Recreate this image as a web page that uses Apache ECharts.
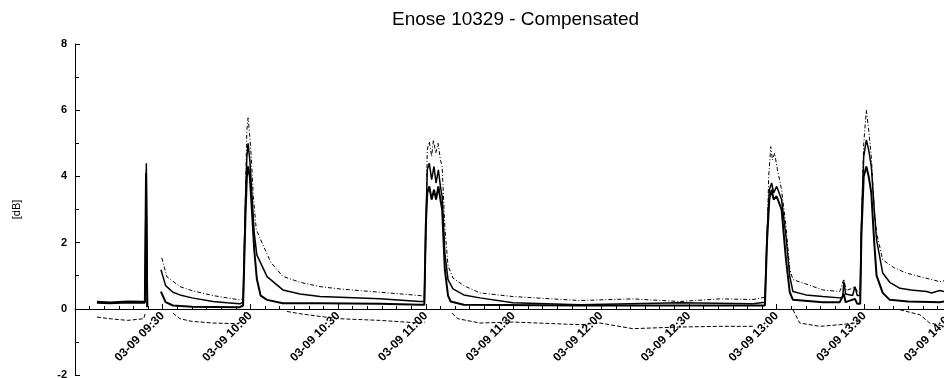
<!DOCTYPE html>
<html>
<head>
<meta charset="utf-8">
<script src="https://cdn.jsdelivr.net/npm/echarts@6/dist/echarts.min.js"></script>
<style>
  html, body { margin: 0; padding: 0; background: #fff; }
  #chart { width: 944px; height: 378px; }
</style>
</head>
<body>
<div id="chart"></div>
<script>
// x = minutes after 03-09 09:00, y = dB
const upperDashed = [
    [29.7, 1.54], [31.4, 0.97], [35.9, 0.67], [40, 0.55], [47.2, 0.4], [52, 0.33], [56.4, 0.27],
    [57.5, 0.3], [58.3, 3.5], [58.8, 5.4], [59.2, 5.77], [59.7, 5.3], [60.3, 4.6], [61, 3.4], [62, 2.4],
    [64.3, 1.93], [67, 1.4], [71.1, 0.98], [77, 0.8], [83.8, 0.67], [90.6, 0.6], [104.3, 0.5], [118, 0.4],
    [119.5, 0.38], [120, 2], [120.5, 4.8], [121.2, 5.05], [122, 4.6], [122.6, 5.1], [123.4, 4.7], [124.2, 5.0],
    [125, 4.5], [125.6, 4.3], [126.5, 2.5], [127.6, 1.3], [129.3, 0.93], [133, 0.7], [138.5, 0.48],
    [149.8, 0.37], [172.7, 0.25], [190.8, 0.3], [206.9, 0.22], [220.6, 0.3], [231.9, 0.28], [236, 0.35],
    [236.7, 2], [237.3, 4.0], [238, 4.9], [238.6, 4.5], [239.3, 4.7], [240.3, 4.2], [241.7, 3.6], [243.2, 2.5],
    [244.5, 1.2], [245.6, 0.88], [250, 0.75], [255.8, 0.57], [261.6, 0.52], [263, 0.9], [263.8, 0.55],
    [266.8, 0.65], [267.8, 0.5], [268.6, 0.5], [269, 2.5], [269.8, 5.0], [270.7, 6.0], [271.5, 5.4],
    [272.4, 4.6], [273.4, 3.0], [274.2, 2.3], [276.3, 1.48], [280, 1.25], [284.4, 1.08], [290, 0.95],
    [295.8, 0.82], [297.5, 0.85]
];
const middleSolid = [
    [7.5, 0.22], [12, 0.2], [18, 0.23], [23.9, 0.22], [24.4, 4.4], [24.8, 0.1], null,
    [29.4, 1.18], [31, 0.7], [33.5, 0.5], [35.9, 0.42], [40, 0.33], [47.2, 0.22], [52, 0.18], [56.4, 0.15],
    [57.5, 0.2], [58.3, 3.2], [58.8, 4.6], [59.2, 5.0], [59.8, 4.5], [60.5, 3.5], [61.3, 2.3], [62.2, 1.63],
    [65.7, 0.97], [71.1, 0.57], [77, 0.45], [83.8, 0.37], [104.3, 0.3], [118, 0.22], [119.5, 0.22],
    [120, 2.5], [120.5, 4.2], [121.2, 4.4], [122, 3.9], [122.8, 4.3], [123.5, 3.8], [124.3, 4.2], [125, 3.7],
    [125.6, 3.4], [126.5, 1.7], [127.6, 0.88], [129.3, 0.6], [133, 0.42], [138.5, 0.33], [149.8, 0.18],
    [172.7, 0.12], [206.9, 0.18], [231.9, 0.15], [236, 0.2], [236.7, 2.2], [237.5, 3.6], [238.3, 3.8],
    [239, 3.5], [240, 3.7], [241.7, 3.3], [243.2, 2.2], [244.5, 0.98], [245.6, 0.52], [250, 0.42],
    [255.8, 0.37], [261.6, 0.33], [262.6, 0.35], [263, 0.82], [263.6, 0.45], [266, 0.4], [266.8, 0.67],
    [267.6, 0.4], [268.6, 0.4], [269, 2.5], [269.8, 4.6], [270.7, 5.1], [271.5, 4.8], [272.4, 4.3],
    [273.4, 3.0], [274.2, 2.08], [276.3, 1.08], [278.7, 0.8], [282.2, 0.62], [286, 0.57], [291.3, 0.52],
    [293, 0.48], [295.8, 0.55], [297.5, 0.52]
];
const lowerSolid = [
    [7.5, 0.18], [12, 0.17], [18, 0.19], [23.9, 0.18], [24.3, 4.1], [24.7, 0.05], null,
    [29.4, 0.52], [31, 0.2], [33.5, 0.1], [40, 0.06], [56.4, 0.05], [57.5, 0.1], [58.3, 2.8], [58.8, 4.0],
    [59.2, 4.3], [59.8, 4.0], [60.5, 3.0], [61.3, 1.8], [62.2, 0.9], [63.5, 0.4], [65.7, 0.27], [71.1, 0.17],
    [83.8, 0.17], [104.3, 0.15], [118, 0.12], [119.5, 0.12], [120, 2.5], [120.5, 3.5], [121.2, 3.7],
    [122, 3.3], [122.8, 3.6], [123.5, 3.3], [124.3, 3.7], [125, 3.3], [125.6, 3.0], [126.5, 1.2],
    [127.6, 0.4], [128.5, 0.22], [133, 0.12], [172.7, 0.1], [231.9, 0.1], [236, 0.1], [236.7, 2.0],
    [237.5, 3.3], [238.3, 3.6], [239, 3.3], [240, 3.4], [241.7, 3.0], [243.2, 1.5], [244.5, 0.5],
    [245.6, 0.27], [255.8, 0.2], [261.6, 0.2], [263, 0.45], [263.6, 0.2], [266.8, 0.3], [267.6, 0.15],
    [268.6, 0.15], [269, 2.2], [269.8, 4.0], [270.7, 4.3], [271.5, 4.0], [272.4, 3.5], [273.4, 2.0],
    [274.2, 1.0], [276.3, 0.48], [278.7, 0.27], [285, 0.22], [295.8, 0.2], [297.5, 0.22]
];
const negativeDashed = [
    [7.5, -0.25], [12, -0.3], [18, -0.35], [23.5, -0.3], [24, -0.15], null,
    [33.5, -0.13], [35.9, -0.3], [40, -0.38], [47.2, -0.43], [56, -0.45], [57.5, -0.3], [58.1, -0.1], null,
    [72.5, -0.08], [77, -0.15], [83.8, -0.23], [90.6, -0.3], [104.3, -0.35], [118, -0.43], [119.7, -0.4], null,
    [129, -0.13], [131, -0.3], [138.5, -0.43], [149.8, -0.4], [172.7, -0.48], [179.6, -0.43], [190.8, -0.6],
    [206.9, -0.55], [220.6, -0.53], [231.9, -0.53], null,
    [245.6, -0.03], [247.9, -0.43], [254.8, -0.53], [261.6, -0.48], [266.8, -0.43], [268.5, -0.35], null,
    [282.2, -0.03], [289, -0.18], [292.4, -0.43], [297.5, -0.53]
];
const yTicks = [-2, 0, 2, 4, 6, 8];

function timeLabel(m) {
    if (m <= 0) return '';
    let h = 9 + Math.floor(m / 60);
    let mm = m % 60;
    return '03-09 ' + (h < 10 ? '0' + h : h) + ':' + (mm < 10 ? '0' + mm : mm);
}

function lineSeries(data, width, type) {
    return {
        type: 'line',
        data: data,
        symbol: 'none',
        connectNulls: false,
        animation: false,
        lineStyle: { color: '#000', width: width, type: type }
    };
}

var chart = echarts.init(document.getElementById('chart'));
chart.setOption({
    backgroundColor: '#fff',
    animation: false,
    title: {
        text: 'Enose 10329 - Compensated',
        left: 387,
        top: 5,
        textStyle: { fontFamily: 'Liberation Sans', fontSize: 19, fontWeight: 'normal', color: '#000' }
    },
    grid: { left: 75, right: -8, top: 44, bottom: 3, outerBoundsMode: 'none', containLabel: false },
    xAxis: {
        type: 'value',
        min: 0,
        max: 300,
        interval: 30,
        // x axis sits on the zero line (grid bottom is -2, 2 units * 33.1px up)
        offset: -66,
        axisLine: { onZero: false, lineStyle: { color: '#000', width: 1 } },
        axisTick: { inside: true, length: 5, lineStyle: { color: '#000' } },
        minorTick: { show: true, splitNumber: 6, length: 3, lineStyle: { color: '#000' } },
        splitLine: { show: false },
        axisLabel: {
            rotate: 45,
            margin: 5,
            color: '#000',
            fontFamily: 'Liberation Sans',
            fontSize: 12,
            fontWeight: 'bold',
            formatter: timeLabel
        }
    },
    yAxis: {
        type: 'value',
        min: yTicks[0],
        max: yTicks[yTicks.length - 1],
        interval: 2,
        name: '[dB]',
        nameLocation: 'middle',
        nameGap: 53,
        nameTextStyle: { color: '#000', fontFamily: 'Liberation Sans', fontSize: 11 },
        axisLine: { show: true, lineStyle: { color: '#000', width: 1 } },
        axisTick: { inside: true, length: 5, lineStyle: { color: '#000' } },
        minorTick: { show: true, splitNumber: 2, length: 4, lineStyle: { color: '#000' } },
        splitLine: { show: false },
        axisLabel: {
            margin: 8,
            color: '#000',
            fontFamily: 'Liberation Sans',
            fontSize: 11,
            fontWeight: 'bold'
        }
    },
    series: [
        lineSeries(upperDashed, 1, [4, 2, 1, 2]),
        lineSeries(middleSolid, 1.5, 'solid'),
        lineSeries(lowerSolid, 2, 'solid'),
        lineSeries(negativeDashed, 1, [4, 2])
    ]
});
</script>
</body>
</html>
